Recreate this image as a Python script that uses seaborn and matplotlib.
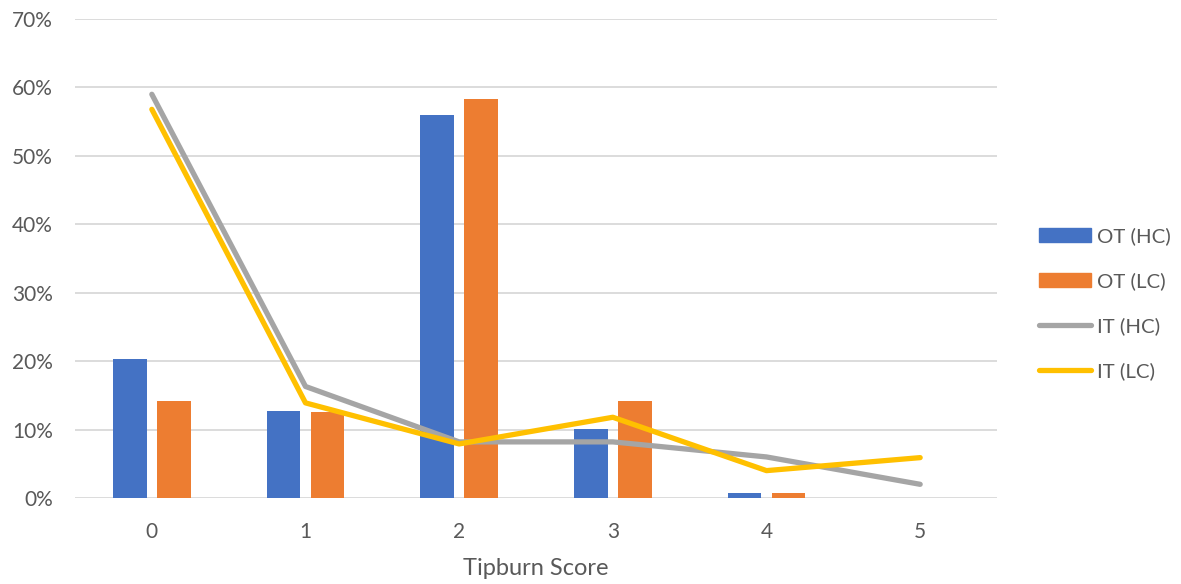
import matplotlib
matplotlib.use("Agg")
import matplotlib.pyplot as plt
import matplotlib.patches as mpatches
import matplotlib.lines as mlines
from matplotlib.ticker import PercentFormatter
import pandas as pd
import seaborn as sns

# Tipburn score distribution (% of plants)
scores = [0, 1, 2, 3, 4, 5]
ot_hc = [20.3, 12.7, 55.9, 10.1, 0.8, 0.0]
ot_lc = [14.2, 12.6, 58.3, 14.2, 0.7, 0.0]
it_hc = [59.0, 16.3, 8.2, 8.2, 6.0, 2.0]
it_lc = [56.8, 13.9, 7.9, 11.8, 4.0, 5.9]

colors = {"OT (HC)": "#4472C4", "OT (LC)": "#ED7D31",
          "IT (HC)": "#A5A5A5", "IT (LC)": "#FFC000"}

bars = pd.DataFrame({
    "score": scores * 2,
    "value": ot_hc + ot_lc,
    "series": ["OT (HC)"] * len(scores) + ["OT (LC)"] * len(scores),
})
lines = pd.DataFrame({
    "pos": list(range(len(scores))) * 2,
    "value": it_hc + it_lc,
    "series": ["IT (HC)"] * len(scores) + ["IT (LC)"] * len(scores),
})

sns.set_style("white")
plt.rcParams["font.family"] = ["Lato", "DejaVu Sans"]
text_color = "#595959"
line_w = 3.8

fig = plt.figure(figsize=(11.81, 5.84), dpi=100)
ax = fig.add_axes([75 / 1181, 1 - 498 / 584, 922 / 1181, 479 / 584])

sns.barplot(data=bars, x="score", y="value", hue="series",
            palette=colors, saturation=1, width=0.572, gap=0.23,
            linewidth=0, ax=ax, legend=False, zorder=3)
sns.lineplot(data=lines, x="pos", y="value", hue="series",
             palette=colors, linewidth=line_w, ax=ax, legend=False,
             zorder=4, solid_capstyle="round", solid_joinstyle="round")

ax.set_xlim(-0.5, 5.5)
ax.set_ylim(0, 70)
ax.set_yticks(range(0, 71, 10))
ax.yaxis.set_major_formatter(PercentFormatter(decimals=0))
ax.grid(axis="y", color="#D9D9D9", linewidth=1.3, zorder=0)
ax.grid(axis="x", visible=False)
for side in ["left", "right", "top", "bottom"]:
    ax.spines[side].set_visible(False)
ax.tick_params(axis="both", length=0, labelsize=15, colors=text_color)
ax.tick_params(axis="y", pad=16)
ax.tick_params(axis="x", pad=17)
ax.set_xlabel("Tipburn Score", fontsize=17, color=text_color, labelpad=12)
ax.set_ylabel("")

handles = [
    mpatches.Patch(color=colors["OT (HC)"], label="OT (HC)"),
    mpatches.Patch(color=colors["OT (LC)"], label="OT (LC)"),
    mlines.Line2D([], [], color=colors["IT (HC)"], linewidth=line_w,
                  solid_capstyle="round", label="IT (HC)"),
    mlines.Line2D([], [], color=colors["IT (LC)"], linewidth=line_w,
                  solid_capstyle="round", label="IT (LC)"),
]
fig.legend(handles=handles, loc="center left",
           bbox_to_anchor=(1021 / 1181, 1 - 304 / 584),
           frameon=False, fontsize=14.7, labelcolor=text_color,
           handlelength=2.55, handleheight=0.69, handletextpad=0.25,
           labelspacing=1.33)

fig.savefig("out.png", dpi=100)
